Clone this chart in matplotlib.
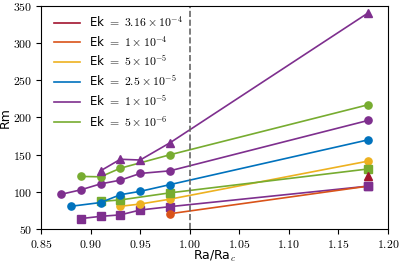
import matplotlib
matplotlib.use("Agg")
import matplotlib.pyplot as plt
from matplotlib.ticker import FuncFormatter

plt.rcParams['mathtext.fontset'] = 'cm'
plt.rcParams['font.family'] = ['DejaVu Sans']

colors = ['#A2142F', '#D95319', '#EDB120', '#0072BD', '#7E2F8E', '#77AC30']
labels = [r'Ek $=$ $3.16 \times 10^{-4}$', r'Ek $=$ $1 \times 10^{-4}$', r'Ek $=$ $5 \times 10^{-5}$',
          r'Ek $=$ $2.5 \times 10^{-5}$', r'Ek $=$ $1 \times 10^{-5}$', r'Ek $=$ $5 \times 10^{-6}$']

# Ek = 3.16e-4 (triangles)
ek316_tri_x = [1.18]
ek316_tri_y = [122]
# Ek = 1e-4 (circles)
ek1e4_x = [0.98, 1.18]
ek1e4_y = [71, 108]
# Ek = 5e-5 (circles)
ek5e5_x = [0.93, 0.95, 0.98, 1.18]
ek5e5_y = [81, 84, 90.5, 141.5]
# Ek = 2.5e-5 (circles)
ek25e5_x = [0.88, 0.91, 0.93, 0.95, 0.98, 1.18]
ek25e5_y = [81, 86, 96.5, 101, 110, 170]
# Ek = 1e-5 triangles, circles, squares
ek1e5_tri_x = [0.91, 0.93, 0.95, 0.98, 1.18]
ek1e5_tri_y = [128.5, 144, 143, 166, 340]
ek1e5_cir_x = [0.87, 0.89, 0.91, 0.93, 0.95, 0.98, 1.18]
ek1e5_cir_y = [97, 103, 111, 116, 125, 128.5, 196]
ek1e5_sq_x = [0.89, 0.91, 0.93, 0.95, 0.98, 1.18]
ek1e5_sq_y = [64.5, 67.5, 69.5, 76, 80.5, 108]
# Ek = 5e-6 circles, squares
ek5e6_cir_x = [0.89, 0.91, 0.93, 0.98, 1.18]
ek5e6_cir_y = [121, 120.5, 132, 150, 217]
ek5e6_sq_x = [0.91, 0.93, 0.98, 1.18]
ek5e6_sq_y = [87.5, 89.5, 99, 131]

fig = plt.figure(figsize=(3.99, 2.64), dpi=100)
ax = fig.add_axes([0.103, 0.131, 0.869, 0.848])

ms = 5.2
lw = 1.2
# legend proxies
for c, l in zip(colors, labels):
    ax.plot([], [], color=c, lw=lw, label=l)

ax.plot(ek1e5_sq_x, ek1e5_sq_y, color=colors[4], marker='s', ms=ms, lw=lw)
ax.plot(ek1e4_x, ek1e4_y, color=colors[1], marker='o', ms=ms, lw=lw)
ax.plot(ek1e5_sq_x[-1:], ek1e5_sq_y[-1:], color=colors[4], marker='s', ms=ms, lw=0)
ax.plot(ek5e5_x, ek5e5_y, color=colors[2], marker='o', ms=ms, lw=lw)
ax.plot(ek5e6_sq_x, ek5e6_sq_y, color=colors[5], marker='s', ms=ms, lw=lw)
ax.plot(ek25e5_x, ek25e5_y, color=colors[3], marker='o', ms=ms, lw=lw)
ax.plot(ek1e5_cir_x, ek1e5_cir_y, color=colors[4], marker='o', ms=ms, lw=lw)
ax.plot(ek5e6_cir_x, ek5e6_cir_y, color=colors[5], marker='o', ms=ms, lw=lw)
ax.plot(ek1e5_tri_x, ek1e5_tri_y, color=colors[4], marker='^', ms=ms, lw=lw)
ax.plot(ek316_tri_x, ek316_tri_y, color=colors[0], marker='^', ms=ms, lw=lw)

ax.axvline(1.0, color='#666666', ls='--', lw=1.2)

ax.set_xlim(0.85, 1.20)
ax.set_ylim(50, 350)
ax.set_xticks([0.85, 0.90, 0.95, 1.00, 1.05, 1.10, 1.15, 1.20])
ax.set_yticks([50, 100, 150, 200, 250, 300, 350])
ax.xaxis.set_major_formatter(FuncFormatter(lambda v, p: r'$%.2f$' % v))
ax.yaxis.set_major_formatter(FuncFormatter(lambda v, p: r'$%d$' % v))
ax.tick_params(labelsize=8.5, length=3.5, pad=2.5)
ax.set_xlabel(r'Ra/Ra$_c$', fontsize=9, labelpad=-1)
ax.set_ylabel('Rm', fontsize=9, labelpad=1)
ax.legend(loc='upper left', fontsize=8.5, frameon=False, handlelength=2.2, labelspacing=0.4,
          borderaxespad=0.4, handletextpad=0.8, bbox_to_anchor=(0.01, 1.0))

fig.savefig('out.png', dpi=100)
